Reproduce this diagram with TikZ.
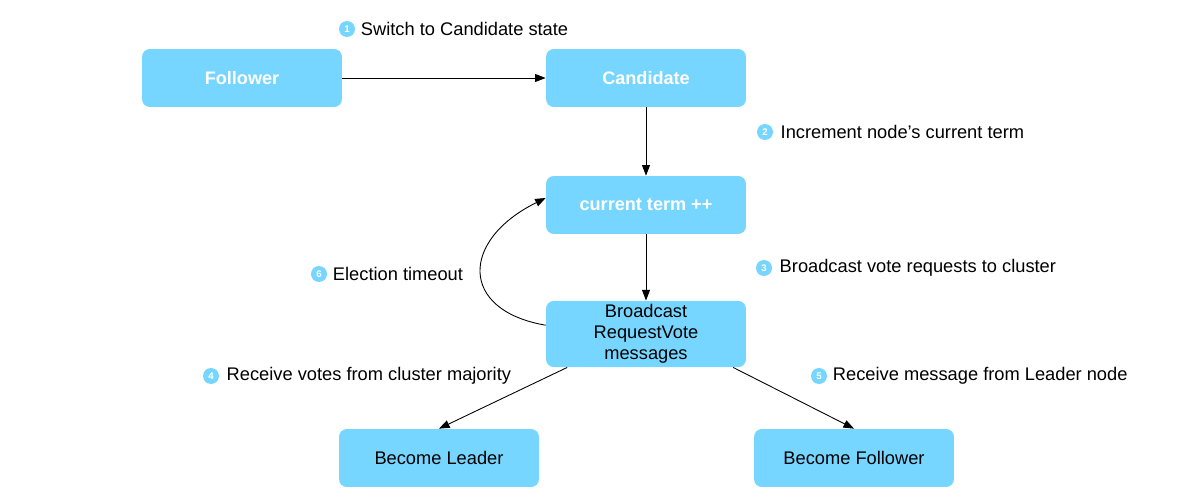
\documentclass[tikz,border=0pt]{standalone}
\usepackage{fontspec}
\setmainfont{Liberation Sans}
\usetikzlibrary{positioning,arrows.meta}
\definecolor{boxblue}{HTML}{76D6FF}

\begin{document}
\begin{tikzpicture}[x=0.02cm, y=-0.02cm, font=\fontsize{10.4}{12}\selectfont,
  state/.style={fill=boxblue, rounded corners=4.5pt, minimum width=4cm, minimum height=1.16cm, align=center, inner sep=2pt},
  hot/.style={text=white, font=\fontsize{10.3}{12}\selectfont\bfseries},
  num/.style={circle, fill=boxblue, text=white, inner sep=0pt, minimum size=0.32cm, font=\fontsize{5.5}{6}\selectfont\bfseries},
  steptext/.style={inner sep=1pt, anchor=west},
  flow/.style={-{Triangle[length=6pt,width=4.5pt]}, black, line width=0.5pt}]
  \useasboundingbox (0,0) rectangle (1200,500);
  % states
  \node[state,hot] (follower) at (242,78) {Follower};
  \node[state,hot] (cand) at (646,78) {Candidate};
  \node[state,hot] (term) at (646,205) {current term ++};
  \node[state,minimum height=1.28cm] (bcast) at (646,334) {Broadcast\\RequestVote\\messages};
  \node[state] (leader) at (439,458) {Become Leader};
  \node[state] (newfol) at (854,458) {Become Follower};
  % transitions
  \draw[flow] (follower.east) -- (cand.west);
  \draw[flow] (cand.south) -- (term.north);
  \draw[flow] (term.south) -- (bcast.north);
  \draw[flow] (bcast.203) -- (leader.north);
  \draw[flow] (bcast.-21) -- (newfol.north);
  \draw[flow] (bcast.175) .. controls +(-87,-15) and +(-85,42) .. (term.176);
  % numbered steps
  \node[num] (n1) at (347,29) {1};
  \node[steptext, right=2pt of n1] (t1) {Switch to Candidate state};
  \node[num] (n2) at (765,132) {2};
  \node[steptext, right=3pt of n2] (t2) {Increment node{\char"27}s current term};
  \node[num] (n3) at (764,268) {3};
  \node[steptext, right=3pt of n3] (t3) {Broadcast vote requests to cluster};
  \node[num] (n4) at (211,376) {4};
  \node[steptext, right=3pt of n4] (t4) {Receive votes from cluster majority};
  \node[num] (n5) at (819,376) {5};
  \node[steptext, right=2pt of n5] (t5) {Receive message from Leader node};
  \node[num] (n6) at (319,274) {6};
  \node[steptext, right=2pt of n6] (t6) {Election timeout};
\end{tikzpicture}
\end{document}
